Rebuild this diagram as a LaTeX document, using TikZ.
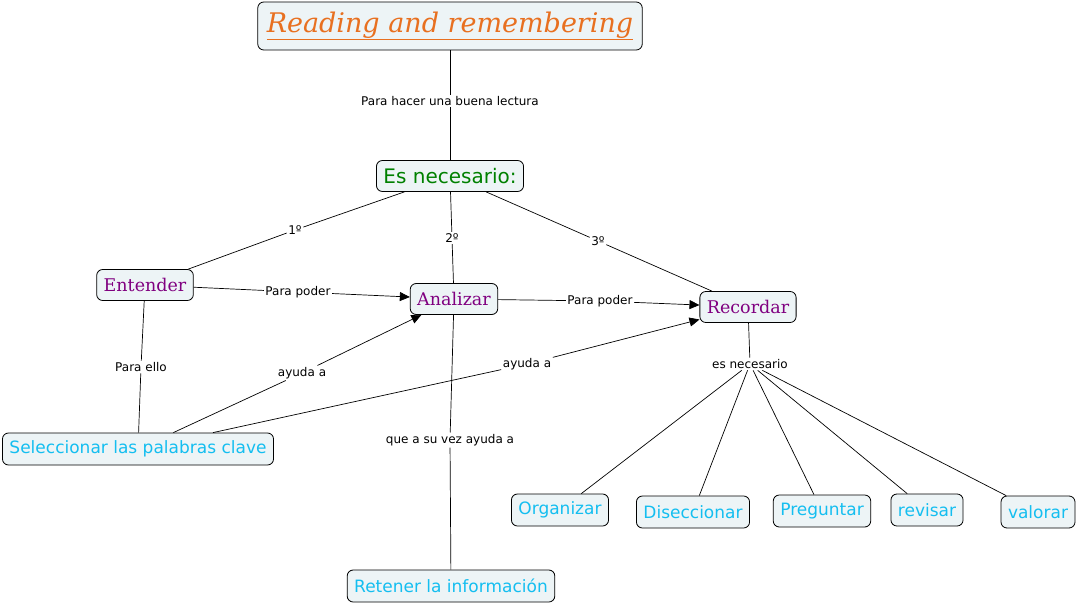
\documentclass[tikz,border=0pt]{standalone}
\usepackage{fontspec}
\setmainfont{DejaVu Sans}
\newfontfamily\cmapserif{DejaVu Serif}
\usetikzlibrary{arrows.meta}
\definecolor{titleorange}{RGB}{232,112,32}
\definecolor{conceptgreen}{RGB}{0,128,0}
\definecolor{conceptpurple}{RGB}{128,0,128}
\definecolor{conceptcyan}{RGB}{20,190,240}
\definecolor{conceptfill}{RGB}{237,244,246}
\tikzset{
  concept/.style={draw,fill=conceptfill,rectangle,rounded corners=6pt,minimum height=31pt,inner xsep=7pt,line width=0.8pt},
  purpleconcept/.style={concept,text=conceptpurple,font=\cmapserif\fontsize{17.5}{20}\selectfont},
  cyanconcept/.style={concept,minimum height=32pt,text=conceptcyan,font=\fontsize{17}{20}\selectfont},
  linkword/.style={inner sep=1.5pt,font=\fontsize{12}{14}\selectfont},
  conn/.style={line width=0.7pt},
  arr/.style={conn,-{Triangle[length=10pt,width=9pt]}}
}
\begin{document}
\begin{tikzpicture}[x=1pt,y=-1pt]
        \useasboundingbox (0,0) rectangle (1079,604);
        %% Concepts
        \node[concept,minimum height=48pt,inner xsep=9pt,text=titleorange,font=\cmapserif\itshape\fontsize{27}{30}\selectfont] (T) at (450,26) {\underline{Reading and remembering}};
        \node[concept,text=conceptgreen,font=\fontsize{20}{23}\selectfont] (E) at (450,176) {Es necesario:};
        \node[purpleconcept] (Ent) at (145,285) {Entender};
        \node[purpleconcept] (Ana) at (454,299) {Analizar};
        \node[purpleconcept] (Rec) at (748,307) {Recordar};
        \node[cyanconcept] (Sel) at (138,449) {Seleccionar las palabras clave};
        \node[cyanconcept] (Ret) at (451,586) {Retener la información};
        \node[cyanconcept] (Org) at (560,510) {Organizar};
        \node[cyanconcept] (Dis) at (693,512) {Diseccionar};
        \node[cyanconcept] (Pre) at (822,511) {Preguntar};
        \node[cyanconcept] (Rev) at (927,510) {revisar};
        \node[cyanconcept] (Val) at (1038,512) {valorar};
        %% Linking words
        \node[linkword] (lT) at (450,101) {Para hacer una buena lectura};
        \node[linkword] (l1) at (295,230) {1º};
        \node[linkword] (l2) at (452,238) {2º};
        \node[linkword] (l3) at (598,241) {3º};
        \node[linkword] (lEA) at (298,292) {Para poder};
        \node[linkword] (lAR) at (600,301) {Para poder};
        \node[linkword] (lES) at (141,367) {Para ello};
        \node[linkword] (lSA) at (302,373) {ayuda a};
        \node[linkword] (lSR) at (527,364) {ayuda a};
        \node[linkword] (lAR2) at (450,440) {que a su vez ayuda a};
        \node[linkword] (lR) at (750,364) {es necesario};
        %% Connectors
        \draw[conn] (T) -- (lT) -- (E);
        \draw[conn] (E) -- (l1) -- (Ent);
        \draw[conn] (E) -- (l2) -- (Ana);
        \draw[conn] (E) -- (l3) -- (Rec);
        \draw[conn] (Ent) -- (lEA); \draw[arr] (lEA) -- (Ana);
        \draw[conn] (Ana) -- (lAR); \draw[arr] (lAR) -- (Rec);
        \draw[conn] (Ent) -- (lES) -- (Sel);
        \draw[conn] (Sel) -- (lSA); \draw[arr] (lSA) -- (Ana);
        \draw[conn] (Sel) -- (lSR); \draw[arr] (lSR) -- (Rec);
        \draw[conn] (Ana) -- (lAR2) -- (Ret);
        \draw[conn] (Rec) -- (lR);
        \foreach \t in {Org,Dis,Pre,Rev,Val}
            \draw[conn] (lR) -- (\t);
    \end{tikzpicture}
\end{document}
